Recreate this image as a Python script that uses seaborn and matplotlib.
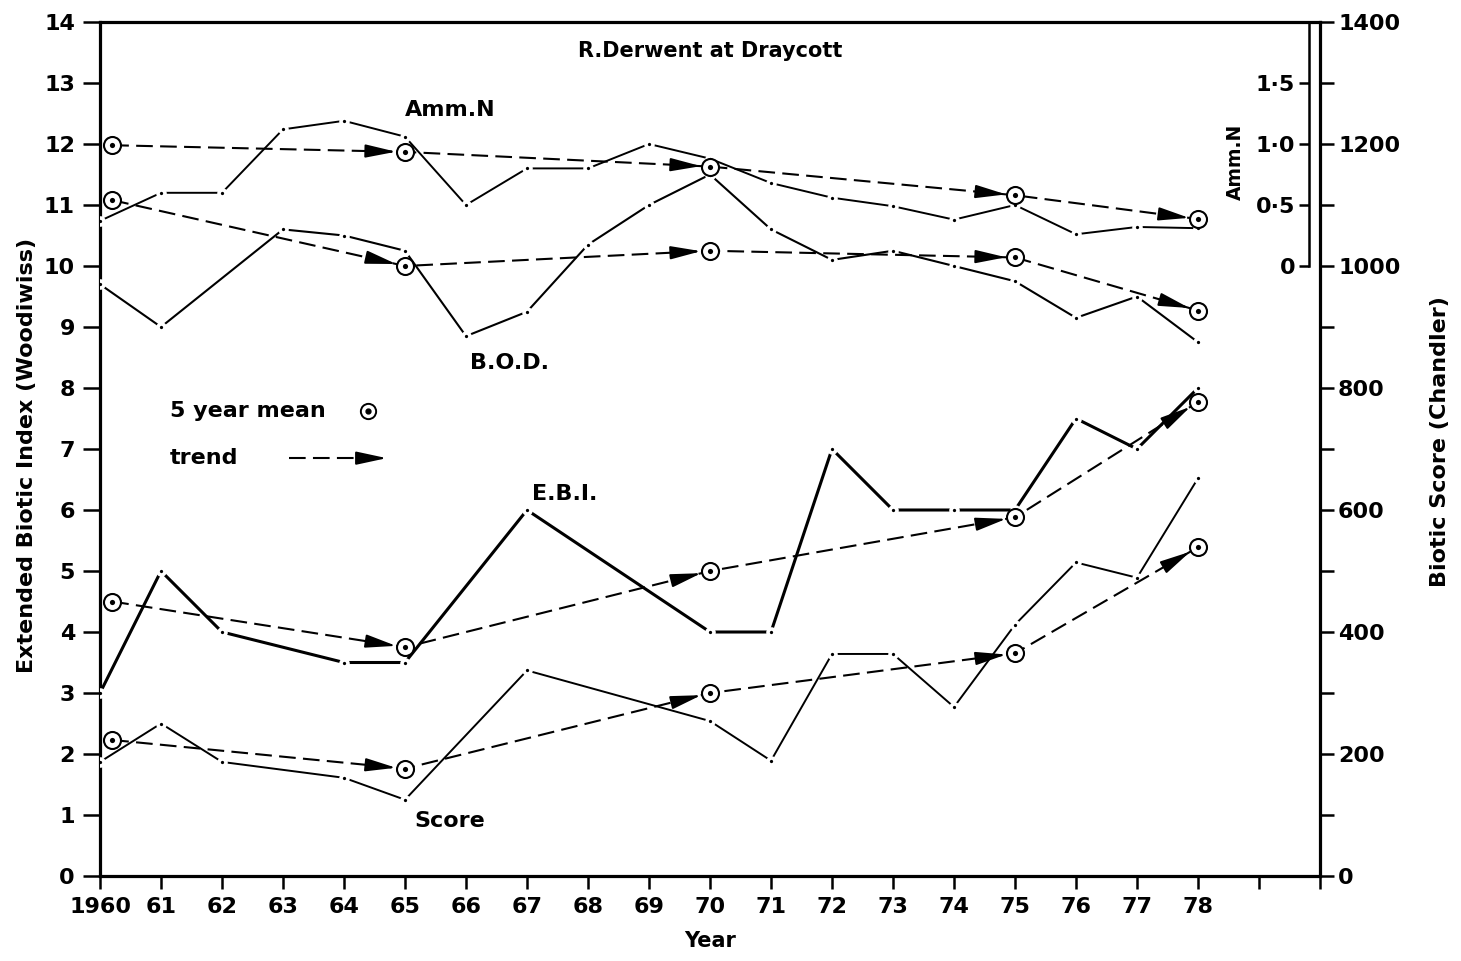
import numpy as np
import pandas as pd
import matplotlib
matplotlib.use("Agg")
import matplotlib.pyplot as plt
import seaborn as sns

nan = np.nan

# ---------------- data ----------------
years = list(range(1960, 1979))
amm_n = [0.37, 0.60, 0.60, 1.12, 1.19, 1.06, 0.50, 0.80, 0.80, 1.00,
         0.88, 0.68, 0.56, 0.49, 0.38, 0.50, 0.26, 0.32, 0.31]
bod = [9.7, 9.0, nan, 10.6, 10.5, 10.25, 8.85, 9.25, 10.35, 11.0,
       11.5, 10.6, 10.1, 10.25, 10.0, 9.75, 9.15, 9.5, 8.75]
ebi = [3.0, 5.0, 4.0, nan, 3.5, 3.5, nan, 6.0, nan, nan,
       4.0, 4.0, 7.0, 6.0, 6.0, 6.0, 7.5, 7.0, 8.0]
score = [187, 250, 187, nan, 161, 125, nan, 337, nan, nan,
         254, 189, 364, 364, 277, 412, 514, 489, 652]

mean_years = [1960.2, 1965, 1970, 1975, 1978]
amm_n_mean = [0.99, 0.935, 0.815, 0.58, 0.385]
bod_mean = [11.08, 10.0, 10.25, 10.14, 9.27]
ebi_mean = [4.5, 3.75, 5.0, 5.88, 7.77]
score_mean = [223, 176, 300, 365, 539]

x_tick_years = list(range(1960, 1981))
x_tick_labels = ["1960"] + [str(y)[2:] for y in range(1961, 1979)] + ["", ""]
left_ticks = list(range(0, 15))
right_ticks = list(range(0, 1401, 100))
right_labels = [str(v) if v % 200 == 0 else "" for v in right_ticks]
amm_ticks = [0, 0.5, 1.0, 1.5]
amm_labels = ["0", "0\u00b75", "1\u00b70", "1\u00b75"]

# ---------------- style ----------------
sns.set_style("white")
plt.rcParams["font.family"] = ["DejaVu Sans"]
plt.rcParams["font.weight"] = "bold"
plt.rcParams["axes.labelweight"] = "bold"
for k in ("text.color", "axes.labelcolor", "xtick.color", "ytick.color", "axes.edgecolor"):
    plt.rcParams[k] = "black"

W, H = 1461, 961
fig = plt.figure(figsize=(W / 100, H / 100), dpi=100)
L, R, T, B = 100, 1320, 22, 876
ax = fig.add_axes([L / W, 1 - B / H, (R - L) / W, (B - T) / H])
ax2 = ax.twinx()
ax3 = ax.twinx()

for a in (ax, ax2, ax3):
    a.set_facecolor("none")
    a.grid(False)

ax.set_xlim(1960, 1980)
ax.set_ylim(0, 14)
ax2.set_ylim(0, 1400)
ax3.set_ylim(-5, 2)

TICKFS = 16
SPW = 2.3
DASH = (0, (8, 3.5))
HEAD = "-|>,head_length=1.25,head_width=0.27"


def arrow_head(axis, p_from, p_to, gap_px=9.0, head_px=23.0):
    t = axis.transData
    a = np.array(t.transform(p_from), dtype=float)
    b = np.array(t.transform(p_to), dtype=float)
    u = (b - a) / np.linalg.norm(b - a)
    tip = b - u * gap_px
    tail = tip - u * head_px
    inv = t.inverted()
    axis.annotate("", xy=tuple(inv.transform(tip)), xytext=tuple(inv.transform(tail)),
                  arrowprops=dict(arrowstyle=HEAD, mutation_scale=15, linewidth=1.4,
                                  color="black", fc="black", shrinkA=0, shrinkB=0),
                  zorder=5)


def series_line(axis, yvals, lw):
    df = pd.DataFrame({"year": years, "value": yvals}).dropna()
    sns.lineplot(data=df, x="year", y="value", ax=axis, color="black",
                 linewidth=lw, marker="o", markersize=5,
                 markerfacecolor="black", markeredgecolor="white",
                 markeredgewidth=2.6, estimator=None, sort=True, zorder=3)


def mean_marks(axis, yvals):
    dm = pd.DataFrame({"year": mean_years, "value": yvals})
    sns.lineplot(data=dm, x="year", y="value", ax=axis, color="black",
                 linewidth=1.5, linestyle=DASH, estimator=None, sort=True, zorder=4)
    sns.scatterplot(data=dm, x="year", y="value", ax=axis, marker="o", s=150,
                    facecolor="white", edgecolor="black", linewidth=1.5, zorder=6)
    sns.scatterplot(data=dm, x="year", y="value", ax=axis, marker="o", s=14,
                    color="black", linewidth=0, zorder=7)


series_line(ax, bod, 1.5)
series_line(ax, ebi, 2.2)
series_line(ax2, score, 1.4)
series_line(ax3, amm_n, 1.4)

mean_marks(ax, bod_mean)
mean_marks(ax, ebi_mean)
mean_marks(ax2, score_mean)
mean_marks(ax3, amm_n_mean)

# ---------------- axes ----------------
ax.set_xlim(1960, 1980)
ax.set_ylim(0, 14)
ax2.set_ylim(0, 1400)
ax3.set_ylim(-5, 2)

ax.set_xticks(x_tick_years)
ax.set_xticklabels(x_tick_labels, fontsize=TICKFS, fontweight="bold")
ax.set_yticks(left_ticks)
ax.set_yticklabels([str(v) for v in left_ticks], fontsize=TICKFS, fontweight="bold")
ax.tick_params(axis="y", direction="out", length=12, width=1.8, pad=6, left=True)
ax.tick_params(axis="x", direction="out", length=9, width=1.8, pad=6, bottom=True)
ax.spines["right"].set_visible(False)
for s in ("left", "bottom", "top"):
    ax.spines[s].set_linewidth(SPW)
    ax.spines[s].set_color("black")

ax2.set_yticks(right_ticks)
ax2.set_yticklabels(right_labels, fontsize=TICKFS, fontweight="bold")
ax2.tick_params(axis="y", direction="out", length=10, width=1.8, pad=3, right=True)
for s in ("left", "bottom", "top"):
    ax2.spines[s].set_visible(False)
ax2.spines["right"].set_linewidth(SPW)
ax2.spines["right"].set_color("black")

for s in ("right", "bottom", "top"):
    ax3.spines[s].set_visible(False)
ax3.spines["left"].set_visible(True)
ax3.spines["left"].set_position(("axes", 0.991))
ax3.spines["left"].set_bounds(0, 2)
ax3.spines["left"].set_linewidth(1.8)
ax3.spines["left"].set_color("black")
ax3.yaxis.tick_left()
ax3.yaxis.set_label_position("left")
ax3.set_yticks(amm_ticks)
ax3.set_yticklabels(amm_labels, fontsize=TICKFS, fontweight="bold")
ax3.tick_params(axis="y", direction="out", length=7, width=1.8, pad=3, left=True, right=False)

ax.xaxis.set_visible(True)
ax.set_xlabel("Year", fontsize=15, fontweight="bold")
ax.xaxis.set_label_coords(0.5, -0.064)
ax.set_ylabel("Extended Biotic Index (Woodiwiss)", fontsize=16, fontweight="bold")
ax.yaxis.set_label_coords(-0.052, 0.492)
ax2.set_xlabel("")
ax2.set_ylabel("Biotic Score (Chandler)", fontsize=16, fontweight="bold")
ax2.yaxis.set_label_coords(1.090, 0.509)
ax3.set_xlabel("")
ax3.set_ylabel("Amm.N", fontsize=13.5, fontweight="bold")
ax3.yaxis.set_label_coords(0.9385, 0.836)

# trend arrowheads (after limits are fixed)
for axis, vals in ((ax, bod_mean), (ax, ebi_mean), (ax2, score_mean), (ax3, amm_n_mean)):
    for i in range(len(mean_years) - 1):
        arrow_head(axis, (mean_years[i], vals[i]), (mean_years[i + 1], vals[i + 1]))

# ---------------- annotations ----------------
ax.text(1970.0, 13.53, "R.Derwent at Draycott", ha="center", va="center",
        fontsize=15, fontweight="bold")
ax.text(1965.74, 12.55, "Amm.N", ha="center", va="center", fontsize=16, fontweight="bold")
ax.text(1966.72, 8.41, "B.O.D.", ha="center", va="center", fontsize=16, fontweight="bold")
ax.text(1967.62, 6.27, "E.B.I.", ha="center", va="center", fontsize=16, fontweight="bold")
ax.text(1965.74, 0.9, "Score", ha="center", va="center", fontsize=16, fontweight="bold")

ax.text(1961.15, 7.62, "5 year mean", ha="left", va="center", fontsize=16, fontweight="bold")
ax.plot([1964.4], [7.62], marker="o", ms=11, mfc="white", mec="black", mew=1.4, zorder=6)
ax.plot([1964.4], [7.62], marker="o", ms=3.5, color="black", zorder=7)
ax.text(1961.15, 6.85, "trend", ha="left", va="center", fontsize=16, fontweight="bold")
ax.plot([1963.1, 1964.4], [6.85, 6.85], color="black", linewidth=1.5, linestyle=DASH)
arrow_head(ax, (1963.1, 6.85), (1964.7, 6.85), gap_px=0.0)

fig.savefig("out.png", dpi=100, facecolor="white")
